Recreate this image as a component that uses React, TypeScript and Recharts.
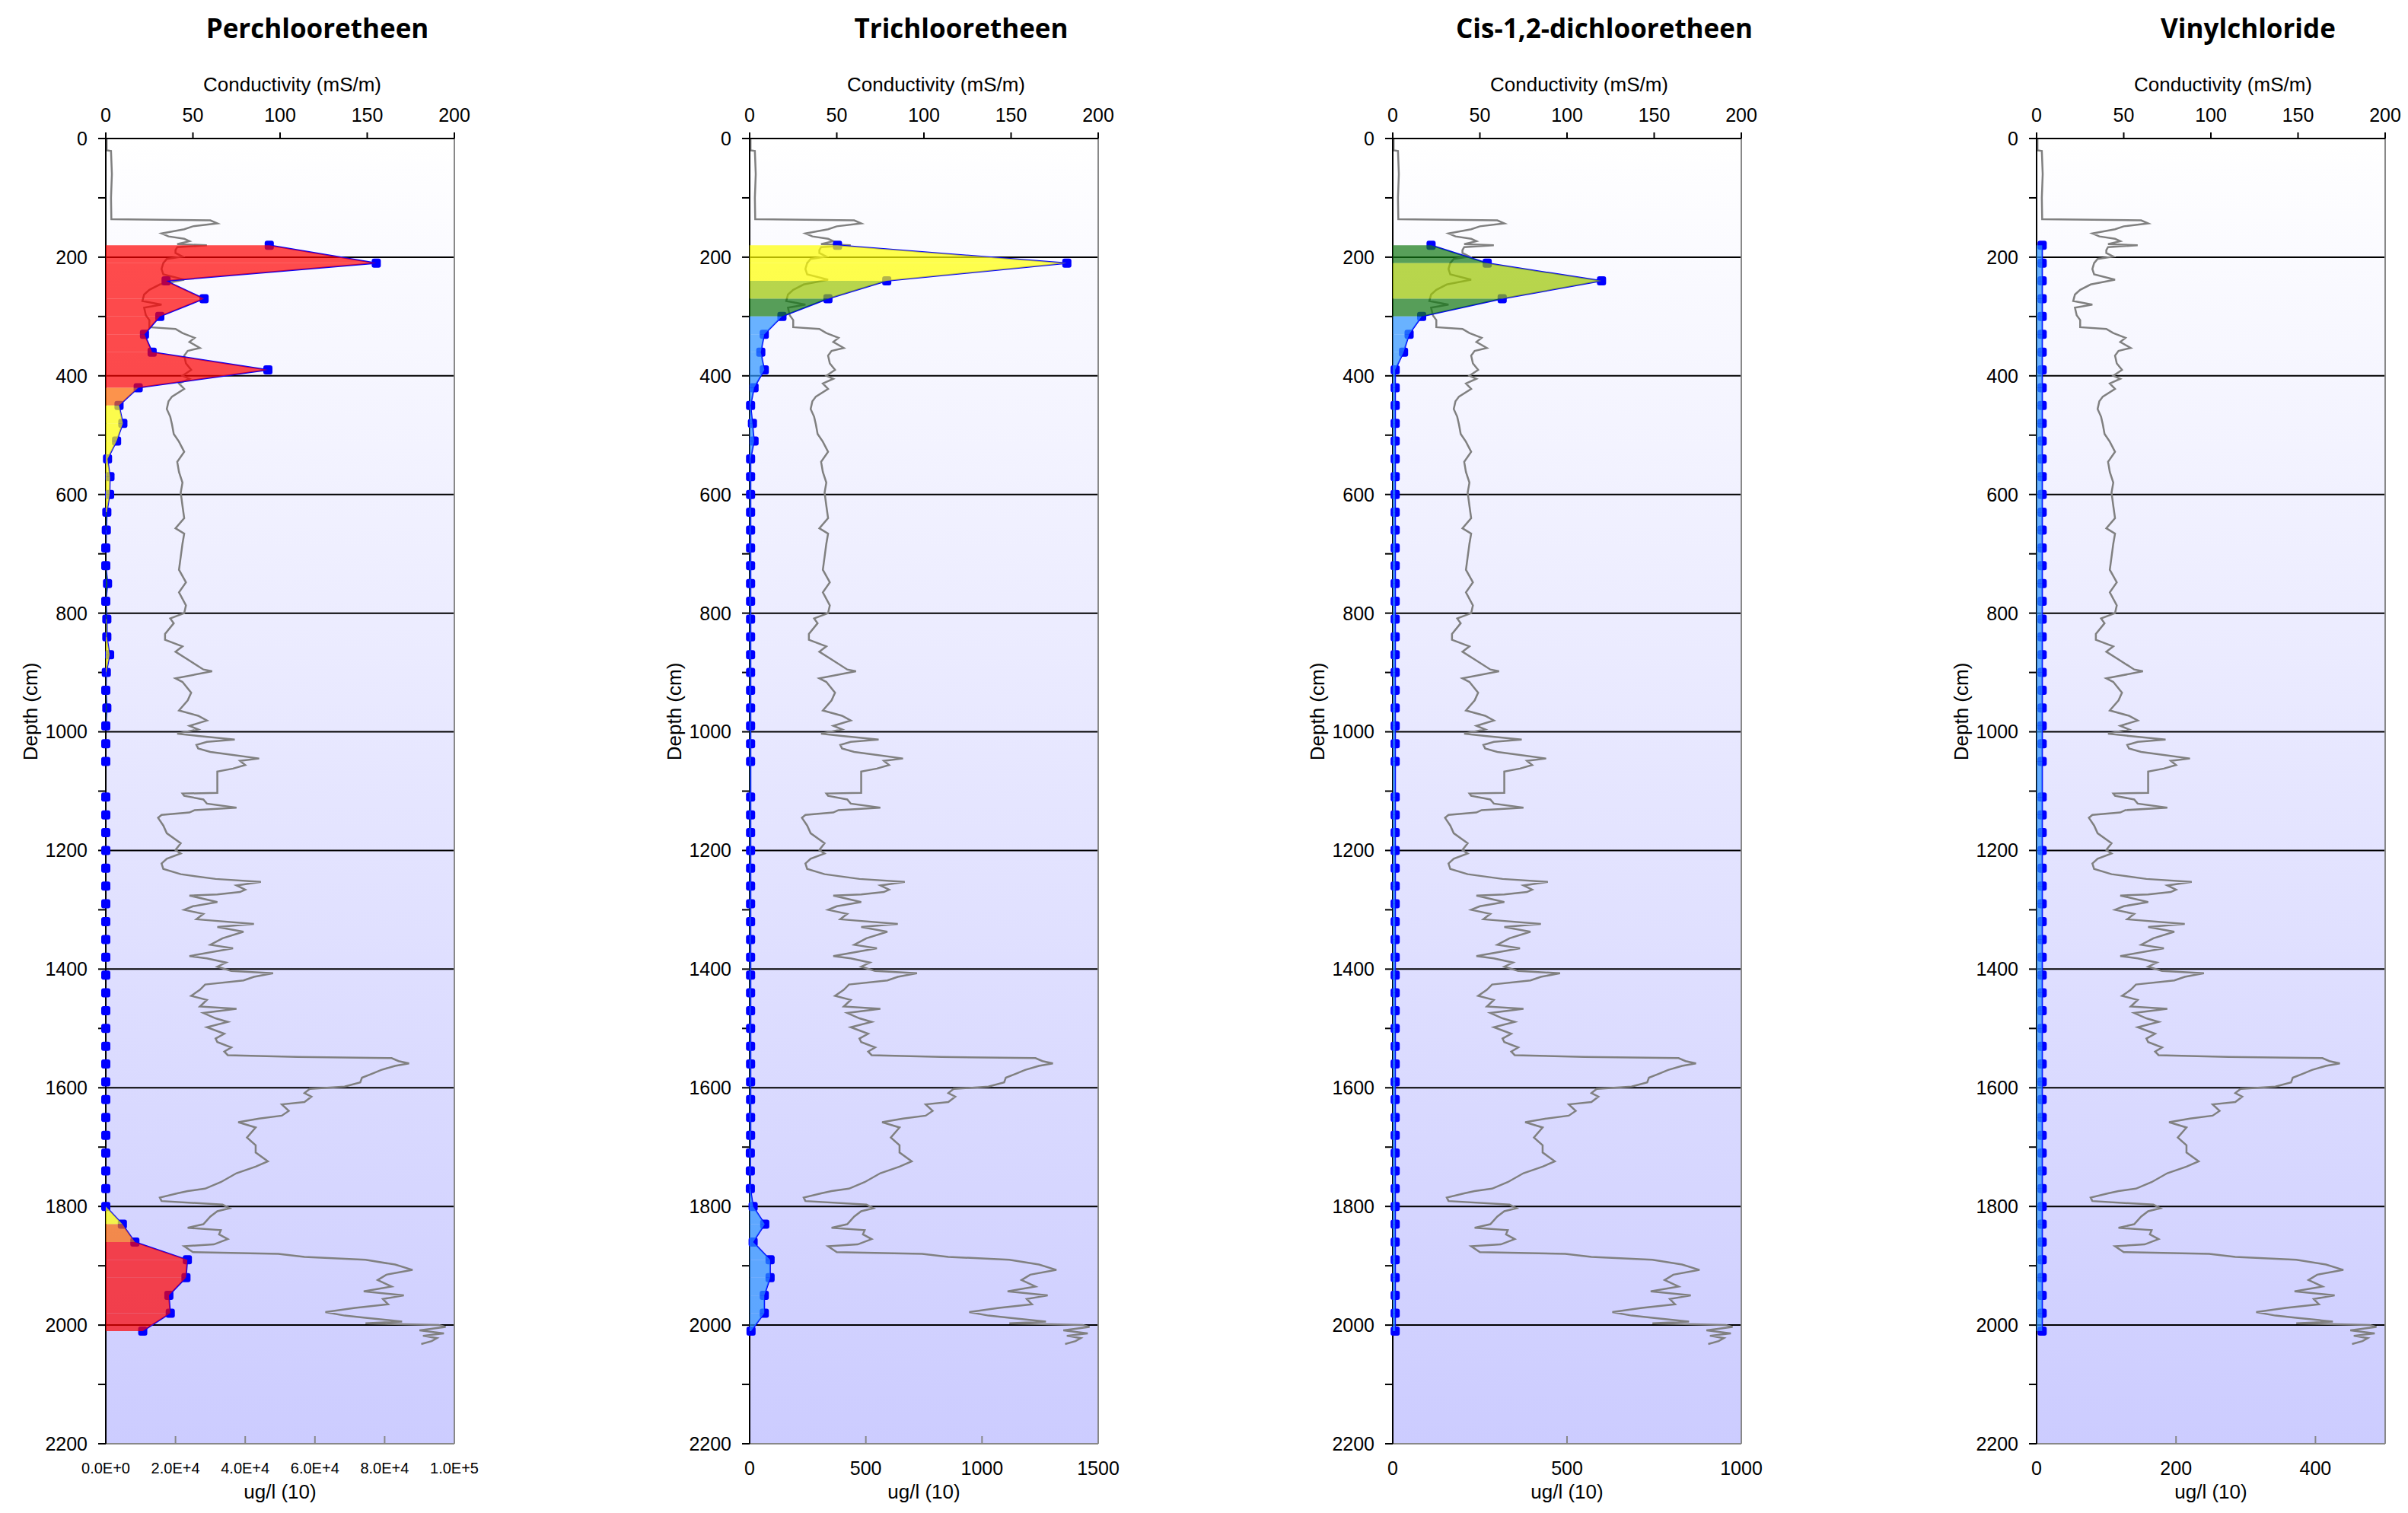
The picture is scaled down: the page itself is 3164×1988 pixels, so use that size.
import React from "react";
import { ComposedChart, Line, Area, XAxis, YAxis, CartesianGrid, ReferenceLine } from "recharts";

// sample depths (cm) of the groundwater samples; 1080 was not sampled
const sampleDepths = [
  180, 210, 240, 270, 300, 330, 360, 390, 420, 450, 480, 510, 540, 570, 600, 630, 660, 690, 720, 750,
  780, 810, 840, 870, 900, 930, 960, 990, 1020, 1050, 1110, 1140, 1170, 1200, 1230, 1260, 1290, 1320,
  1350, 1380, 1410, 1440, 1470, 1500, 1530, 1560, 1590, 1620, 1650, 1680, 1710, 1740, 1770, 1800, 1830,
  1860, 1890, 1920, 1950, 1980, 2010,
];

const perchlooretheen = [
  46900, 77600, 17300, 28200, 15500, 11100, 13300, 46500, 9300, 3800, 4900, 3100, 500, 1200, 1100, 300,
  150, 0, 0, 500, 0, 300, 300, 1100, 150, 0, 300, 0, 0, 0, 0, 0, 0, 0, 0, 0, 0, 0, 0, 0, 0, 0, 0, 0, 0,
  0, 0, 0, 0, 0, 0, 0, 0, 0, 4760, 8350, 23400, 23000, 18100, 18500, 10600,
];

const trichlooretheen = [
  378, 1365, 590, 337, 139, 63, 48, 63, 19, 4, 12, 19, 4, 4, 4, 4, 4, 4, 4, 4, 4, 4, 4, 4, 4, 4, 4, 4,
  4, 4, 4, 4, 4, 4, 4, 4, 4, 4, 4, 4, 4, 4, 4, 4, 4, 4, 4, 4, 4, 4, 3, 3, 3, 15, 65, 15, 88, 88, 63, 63, 6,
];

const cisDichlooretheen = [
  110, 271, 599, 314, 83, 47, 31, 7, 7, 7, 7, 7, 7, 7, 7, 7, 7, 7, 7, 7, 7, 7, 7, 7, 7, 7, 7, 7, 7, 7,
  7, 7, 7, 7, 7, 7, 7, 7, 7, 7, 7, 7, 7, 7, 7, 7, 7, 7, 7, 7, 7, 7, 7, 7, 7, 7, 7, 7, 7, 7, 7,
];

const vinylchloride = [
  8, 8, 8, 8, 8, 8, 8, 8, 8, 8, 8, 8, 8, 8, 8, 8, 8, 8, 8, 8, 8, 8, 8, 8, 8, 8, 8, 8, 8, 8,
  8, 8, 8, 8, 8, 8, 8, 8, 8, 8, 8, 8, 8, 8, 8, 8, 8, 8, 8, 8, 8, 8, 8, 8, 8, 8, 8, 8, 8, 8, 8,
];

// conductivity log: [depth cm, mS/m]
const conductivity: [number, number][] = [
  [0, 0.5], [20, 0.5], [21, 3], [60, 3.5], [100, 3], [136, 3.2], [138, 60], [143, 64], [148, 50], [153, 45],
  [160, 32], [165, 36], [169, 45], [173, 48], [178, 41], [180, 58], [183, 41], [188, 40], [193, 40], [199, 44],
  [203, 35], [210, 33], [220, 32], [229, 33], [238, 45], [246, 31], [255, 25], [263, 22], [274, 21], [280, 32],
  [285, 22], [298, 23], [306, 25], [318, 25], [321, 40], [328, 44], [336, 51], [343, 48], [353, 54], [358, 47],
  [366, 45], [379, 46], [390, 49], [400, 44], [405, 48], [413, 42], [422, 45], [435, 38], [443, 36], [456, 35],
  [469, 37], [482, 38], [498, 39], [511, 42], [528, 45], [545, 41], [562, 42], [580, 44], [597, 43], [619, 44],
  [640, 45], [657, 40], [666, 45], [683, 44], [705, 43], [727, 42], [748, 46], [765, 42], [787, 46], [800, 45],
  [809, 37], [817, 39], [835, 34], [845, 34], [856, 44], [865, 40], [878, 47], [895, 56], [898, 61], [910, 40],
  [916, 44], [934, 49], [947, 47], [964, 42], [973, 53], [981, 58], [990, 48], [996, 53], [1003, 41], [1007, 53],
  [1013, 74], [1017, 58], [1022, 52], [1028, 53], [1034, 60], [1039, 73], [1045, 88], [1049, 77], [1056, 80], [1062, 73],
  [1067, 64], [1103, 64], [1104, 44], [1108, 45], [1114, 56], [1121, 58], [1128, 75], [1132, 51], [1136, 48], [1140, 32],
  [1145, 30], [1158, 33], [1171, 35], [1188, 43], [1199, 40], [1205, 43], [1214, 35], [1222, 32], [1231, 33], [1240, 43],
  [1248, 63], [1253, 89], [1259, 75], [1266, 80], [1270, 77], [1274, 64], [1276, 48], [1287, 64], [1294, 50], [1300, 45],
  [1307, 56], [1316, 52], [1324, 85], [1329, 64], [1337, 79], [1348, 67], [1359, 60], [1365, 73], [1378, 48], [1382, 58],
  [1389, 69], [1396, 64], [1403, 72], [1407, 96], [1413, 85], [1419, 79], [1426, 57], [1435, 54], [1445, 49], [1452, 58],
  [1463, 54], [1467, 75], [1474, 56], [1483, 63], [1489, 70], [1498, 58], [1509, 68], [1517, 63], [1523, 64], [1532, 72],
  [1539, 68], [1545, 70], [1548, 110], [1550, 164], [1555, 168], [1559, 174], [1563, 166], [1570, 158], [1576, 153], [1583, 147],
  [1591, 146], [1598, 137], [1602, 117], [1609, 114], [1615, 118], [1624, 114], [1628, 101], [1639, 105], [1647, 101], [1652, 88],
  [1658, 76], [1667, 86], [1684, 81], [1697, 86], [1709, 86], [1724, 93], [1733, 86], [1744, 75], [1759, 66], [1770, 57],
  [1774, 47], [1778, 41], [1785, 31], [1791, 32], [1797, 67], [1803, 71], [1808, 64], [1817, 60], [1830, 56], [1836, 47],
  [1840, 66], [1847, 65], [1855, 70], [1864, 62], [1867, 45], [1877, 50], [1880, 99], [1885, 114], [1890, 149], [1898, 166],
  [1907, 176], [1915, 161], [1924, 156], [1935, 164], [1943, 148], [1950, 171], [1956, 159], [1965, 162], [1971, 143], [1978, 126],
  [1984, 137], [1988, 150], [1994, 170], [1997, 149], [2000, 191], [2003, 195], [2009, 180], [2014, 194], [2018, 182], [2022, 190],
  [2027, 187], [2032, 181],
];

const depthTicks = [0, 100, 200, 300, 400, 500, 600, 700, 800, 900, 1000, 1100, 1200, 1300, 1400, 1500, 1600, 1700, 1800, 1900, 2000, 2100, 2200];
const gridDepths = [200, 400, 600, 800, 1000, 1200, 1400, 1600, 1800, 2000];
const condTicks = [0, 50, 100, 150, 200];

// concentration classes (mean of the band) -> fill colour
const classLimits = [150, 300, 600, 5000, 8000];
const classColors = ["#2c94ff", "#137713", "#9bc600", "#ffff00", "#ff6a00", "#ff0000"];

const panels = [
  { title: "Perchlooretheen", values: perchlooretheen, max: 100000, ticks: [0, 20000, 40000, 60000, 80000, 100000], sci: true },
  { title: "Trichlooretheen", values: trichlooretheen, max: 1500, ticks: [0, 500, 1000, 1500], sci: false },
  { title: "Cis-1,2-dichlooretheen", values: cisDichlooretheen, max: 1000, ticks: [0, 500, 1000], sci: false },
  { title: "Vinylchloride", values: vinylchloride, max: 500, ticks: [0, 200, 400], sci: false },
];

const PLOT_LEFT = [139, 985, 1830, 2676];
const PLOT_W = 458;
const FONT = "'Liberation Sans', Arial, sans-serif";

const condData = conductivity.map(([depth, cond]) => ({ depth, cond }));

function bandColor(a: number, b: number) {
  const m = (a + b) / 2;
  let i = 0;
  while (i < classLimits.length && m >= classLimits[i]) i++;
  return classColors[i];
}

const SquareDot = (props: any) => {
  const { cx, cy, index } = props;
  if (cx == null || cy == null) return <g key={index} />;
  return <rect key={index} x={cx - 6} y={cy - 6} width={12} height={12} rx={3} fill="#0000ff" />;
};

function sciFmt(v: number) {
  return v.toExponential(1).toUpperCase();
}

function Label({ x, y, size, bold, rotate, children }: any) {
  return (
    <div
      style={{
        position: "absolute",
        left: x,
        top: y,
        transform: `translate(-50%, -50%)${rotate ? " rotate(-90deg)" : ""}`,
        whiteSpace: "nowrap",
        lineHeight: 1,
        fontSize: size,
        fontWeight: bold ? 700 : 400,
        fontFamily: bold ? "'Open Sans', sans-serif" : FONT,
        color: "#000",
      }}
    >
      {children}
    </div>
  );
}

function Panel({ idx }: { idx: number }) {
  const p = panels[idx];
  const plotLeft = PLOT_LEFT[idx];
  const data = sampleDepths.map((depth, i) => ({ depth, v: p.values[i] }));
  const bands = data.slice(1).map((d, i) => ({
    pts: [data[i], d],
    color: bandColor(data[i].v, d.v),
  }));
  const gid = `bg${idx}`;
  const cx = plotLeft + PLOT_W / 2;

  return (
    <>
      <div style={{ position: "absolute", left: plotLeft - 139, top: 0 }}>
        <ComposedChart
          width={640}
          height={1988}
          layout="vertical"
          margin={{ top: 122, right: 43, bottom: 31, left: 39 }}
        >
          <defs>
            <linearGradient id={gid} x1="0" y1="0" x2="0" y2="1">
              <stop offset="0%" stopColor="#ffffff" />
              <stop offset="100%" stopColor="#ccccff" />
            </linearGradient>
          </defs>
          <CartesianGrid
            xAxisId="conc"
            vertical={false}
            horizontalValues={gridDepths}
            stroke="#000"
            strokeWidth={2}
            fill={`url(#${gid})`}
            fillOpacity={1}
          />
          <XAxis
            xAxisId="cond"
            orientation="top"
            type="number"
            domain={[0, 200]}
            ticks={condTicks}
            interval={0}
            height={60}
            tickSize={8}
            tickMargin={14}
            axisLine={{ stroke: "#000", strokeWidth: 2 }}
            tickLine={{ stroke: "#000", strokeWidth: 2 }}
            tick={{ fill: "#000", fontSize: 25, fontFamily: FONT }}
          />
          <XAxis
            xAxisId="conc"
            orientation="bottom"
            type="number"
            domain={[0, p.max]}
            ticks={p.ticks}
            interval={0}
            height={60}
            tickSize={-10}
            tickMargin={p.sci ? 35 : 33}
            tickFormatter={(v: number) => (p.sci ? sciFmt(v) : String(v))}
            axisLine={{ stroke: "#888", strokeWidth: 2 }}
            tickLine={{ stroke: "#888", strokeWidth: 2 }}
            tick={{ fill: "#000", fontSize: p.sci ? 20 : 25, fontFamily: FONT }}
          />
          <YAxis
            dataKey="depth"
            type="number"
            domain={[0, 2200]}
            ticks={depthTicks}
            interval={0}
            width={100}
            tickSize={10}
            tickMargin={14}
            tickFormatter={(v: number) => (v % 200 === 0 ? String(v) : "")}
            axisLine={{ stroke: "#000", strokeWidth: 2 }}
            tickLine={{ stroke: "#000", strokeWidth: 2 }}
            tick={{ fill: "#000", fontSize: 25, fontFamily: FONT }}
          />
          <ReferenceLine xAxisId="conc" x={p.max} stroke="#888" strokeWidth={2} />
          <Line
            xAxisId="cond"
            data={condData}
            dataKey="cond"
            stroke="#808080"
            strokeWidth={2.5}
            dot={false}
            activeDot={false}
            isAnimationActive={false}
            zIndex={50}
          />
          <Line
            xAxisId="conc"
            data={data}
            dataKey="v"
            stroke="#0000ff"
            strokeWidth={2}
            dot={SquareDot}
            activeDot={false}
            isAnimationActive={false}
            zIndex={60}
          />
          {bands.map((b, i) => (
            <Area
              key={i}
              xAxisId="conc"
              data={b.pts}
              dataKey="v"
              stroke="none"
              fill={b.color}
              fillOpacity={0.7}
              dot={false}
              activeDot={false}
              isAnimationActive={false}
              zIndex={1300}
            />
          ))}
        </ComposedChart>
      </div>
      <Label x={cx + 49} y={36} size={35} bold>{p.title}</Label>
      <Label x={cx + 16} y={111} size={26}>Conductivity (mS/m)</Label>
      <Label x={cx} y={1960} size={26}>ug/l (10)</Label>
      <Label x={plotLeft - 99} y={935} size={26} rotate>Depth (cm)</Label>
    </>
  );
}

export default function App() {
  return (
    <div style={{ position: "absolute", left: 0, top: 0, width: 3164, height: 1988, background: "#fff", overflow: "hidden" }}>
      {panels.map((_, i) => (
        <Panel key={i} idx={i} />
      ))}
    </div>
  );
}
